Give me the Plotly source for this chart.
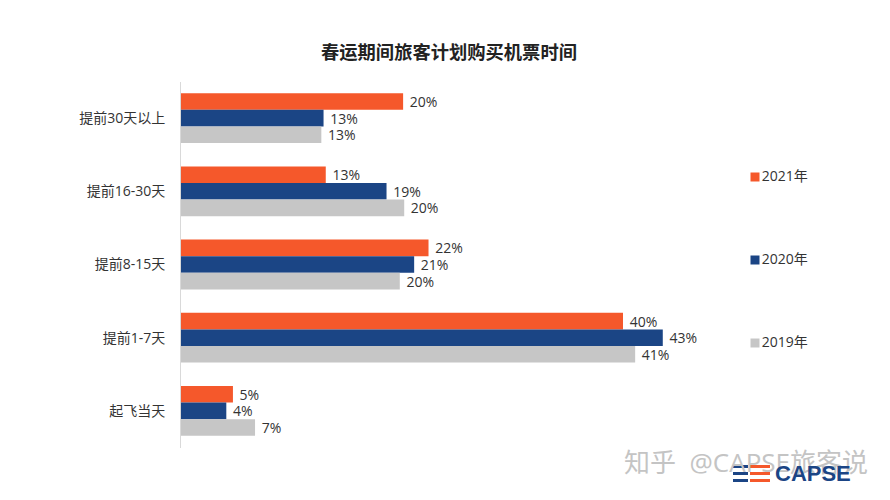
import plotly.graph_objects as go

# Values
categories = ["提前30天以上", "提前16-30天", "提前8-15天", "提前1-7天", "起飞当天"]
values_2021 = [20.1, 13.1, 22.4, 40.0, 4.7]
values_2020 = [12.9, 18.6, 21.1, 43.6, 4.1]
values_2019 = [12.7, 20.2, 19.8, 41.1, 6.7]
labels_2021 = ["20%", "13%", "22%", "40%", "5%"]
labels_2020 = ["13%", "19%", "21%", "43%", "4%"]
labels_2019 = ["13%", "20%", "20%", "41%", "7%"]
legend_names = ["2021年", "2020年", "2019年"]

ORANGE = "#f5582b"
BLUE = "#1b4585"
GREY = "#c6c6c6"
FONT = "Open Sans, Noto Sans CJK SC"
W, H = 890, 500
PAGE_MARGIN = 8  # the page body pushes the figure in by this much


def fx(px):
    return (px - PAGE_MARGIN) / W


def fy(px):
    return 1 - (px - PAGE_MARGIN) / H


fig = go.Figure()

series = [
    (legend_names[0], values_2021, labels_2021, ORANGE),
    (legend_names[1], values_2020, labels_2020, BLUE),
    (legend_names[2], values_2019, labels_2019, GREY),
]
for name, vals, labels, color in series:
    fig.add_trace(go.Bar(
        y=categories, x=vals, name=name, orientation="h",
        marker_color=color, marker_line_width=0,
        # nbsp gives the labels a little more room from the bar end
        text=["\u00a0" + t for t in labels], textposition="outside",
        cliponaxis=False, constraintext="none",
        textfont=dict(size=14, color="#333333", family=FONT),
        showlegend=False,
    ))

# Spread-out legend on its own small axes
fig.add_trace(go.Scatter(
    x=[0, 0, 0], y=legend_names, xaxis="x2", yaxis="y2",
    mode="markers+text", text=legend_names, textposition="middle right",
    marker=dict(symbol="square", size=9, color=[ORANGE, BLUE, GREY]),
    textfont=dict(size=14, color="#333333", family=FONT),
    showlegend=False, cliponaxis=False,
))

# Logo stripes in the bottom right corner
shapes = []
for y0 in (465, 472, 479):
    shapes.append(dict(type="rect", xref="paper", yref="paper", layer="above",
                       x0=fx(733), x1=fx(748), y0=fy(y0 + 3), y1=fy(y0),
                       fillcolor=BLUE, line_width=0))
    shapes.append(dict(type="rect", xref="paper", yref="paper", layer="above",
                       x0=fx(750), x1=fx(770), y0=fy(y0 + 3), y1=fy(y0),
                       fillcolor=ORANGE, line_width=0))

fig.update_layout(
    width=W, height=H,
    margin=dict(l=0, r=0, t=0, b=0),
    paper_bgcolor="white", plot_bgcolor="white",
    font=dict(family=FONT, color="#333333"),
    barmode="group", bargap=0.32, bargroupgap=0,
    title=dict(text="<b>春运期间旅客计划购买机票时间</b>", x=fx(449), xanchor="center",
               y=fy(53), yanchor="middle",
               font=dict(size=18.3, color="#222222", family="Noto Sans CJK SC")),
    xaxis=dict(domain=[fx(181), fx(733.5)], range=[0, 50], visible=False),
    yaxis=dict(domain=[fy(447.5), fy(81.5)], autorange="reversed", automargin=False,
               showline=True, linecolor="#d9d9d9", linewidth=1, ticks="",
               ticklabelstandoff=12, tickfont=dict(size=14, color="#333333", family=FONT)),
    xaxis2=dict(domain=[fx(745), fx(765)], range=[-1, 1], visible=False, anchor="y2"),
    yaxis2=dict(domain=[fy(384.5), fy(135.5)], visible=False, anchor="x2",
                type="category", categoryorder="array", categoryarray=legend_names[::-1],
                range=[-0.5, 2.5]),
    shapes=shapes,
    annotations=[
        dict(text="知乎  @CAPSE旅客说", xref="paper", yref="paper", x=fx(746), y=fy(462),
             xanchor="center", yanchor="middle", showarrow=False,
             font=dict(size=26, color="#c4c4c4", family=FONT)),
        dict(text="<b>CAPSE</b>", xref="paper", yref="paper", x=fx(813), y=fy(473),
             xanchor="center", yanchor="middle", showarrow=False,
             font=dict(size=22, color=BLUE, family="Liberation Sans")),
    ],
)

fig.write_html("out.html")
